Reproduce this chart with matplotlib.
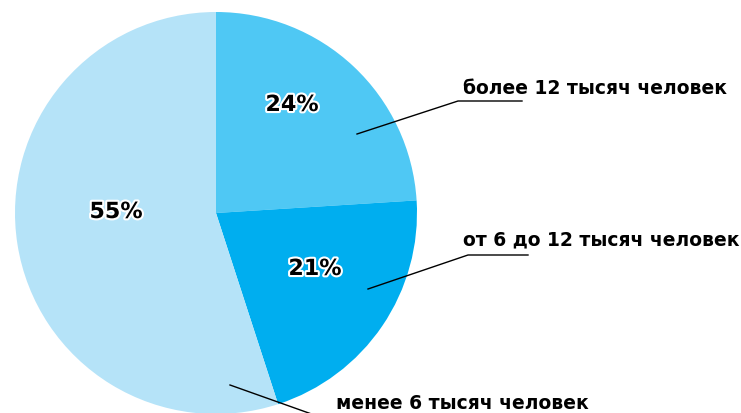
import matplotlib.pyplot as plt
import matplotlib.patheffects as pe

plt.rcParams['font.family'] = ['DejaVu Sans']

# доли по численности
labels = ['более 12 тысяч человек', 'от 6 до 12 тысяч человек', 'менее 6 тысяч человек']
shares = [24, 21, 55]
colors = ['#4FC8F4', '#00AEEF', '#B5E3F8']

W, H = 741, 414
fig = plt.figure(figsize=(W / 100, H / 100), dpi=100)
ax = fig.add_axes([0, 0, 1, 1])

cx, cy, r = 216, H - 214, 201
ax.pie(shares, colors=colors, startangle=90, counterclock=False,
       center=(cx, cy), radius=r, frame=True,
       wedgeprops=dict(linewidth=0))
ax.set_xlim(0, W)
ax.set_ylim(0, H)
ax.set_aspect('equal')
ax.axis('off')

outline = [pe.withStroke(linewidth=3, foreground='white')]

# подписи процентов
pct_pos = [(292, 106), (315, 270), (116, 213)]
for v, (x, y) in zip(shares, pct_pos):
    ax.text(x, H - y, f'{v}%', fontsize=16, fontweight='bold',
            ha='center', va='center', path_effects=outline)

# выноски
leaders = [
    [(357, 135), (458, 102), (522, 102)],
    [(368, 290), (468, 256), (528, 256)],
    [(230, 386), (320, 418)],
]
text_pos = [(463, 89), (463, 240), (336, 404)]
for lab, pts, (tx, ty) in zip(labels, leaders, text_pos):
    xs = [p[0] for p in pts]
    ys = [H - p[1] for p in pts]
    ax.plot(xs, ys, color='black', linewidth=1, clip_on=False)
    ax.text(tx, H - ty, lab, fontsize=13.5, fontweight='bold',
            ha='left', va='center')

fig.savefig('out.png', dpi=100)
